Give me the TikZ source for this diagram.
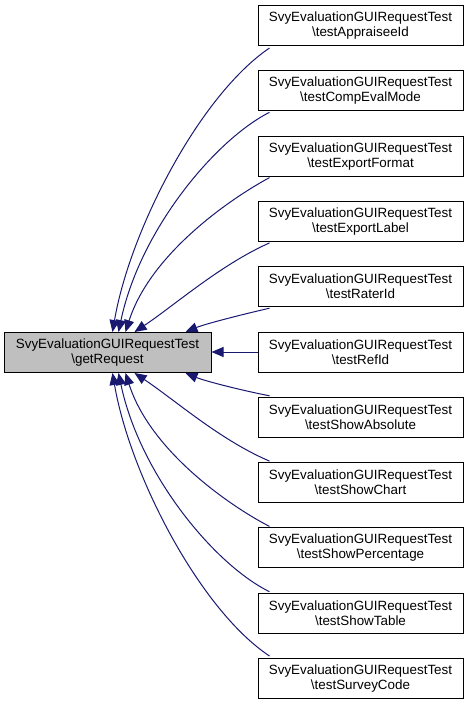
\documentclass[tikz,border=0pt]{standalone}
\usepackage{fontspec}
\setmainfont{Liberation Sans}
\usetikzlibrary{arrows.meta,calc}
\definecolor{edgeblue}{HTML}{191970}
\definecolor{maingray}{HTML}{BFBFBF}
\tikzset{
  box/.style={draw=black,line width=1pt,minimum width=205pt,minimum height=40pt,inner sep=0pt,align=center,font=\fontsize{13.4}{15}\selectfont},
  mainbox/.style={box,fill=maingray,minimum width=207pt},
  edge/.style={draw=edgeblue,line width=1pt,-{Triangle[length=12pt,width=10pt]}}
}
\begin{document}
\begin{tikzpicture}[x=1pt,y=-1pt]
\useasboundingbox (0,0) rectangle (469,705);
\node[mainbox] (g) at (107.5,352.5) {SvyEvaluationGUIRequestTest\\\textbackslash getRequest};
\node[box] (r0) at (360.5,25.5) {SvyEvaluationGUIRequestTest\\\textbackslash testAppraiseeId};
\node[box] (r1) at (360.5,90.8) {SvyEvaluationGUIRequestTest\\\textbackslash testCompEvalMode};
\node[box] (r2) at (360.5,156.1) {SvyEvaluationGUIRequestTest\\\textbackslash testExportFormat};
\node[box] (r3) at (360.5,221.4) {SvyEvaluationGUIRequestTest\\\textbackslash testExportLabel};
\node[box] (r4) at (360.5,286.7) {SvyEvaluationGUIRequestTest\\\textbackslash testRaterId};
\node[box] (r5) at (360.5,352.0) {SvyEvaluationGUIRequestTest\\\textbackslash testRefId};
\node[box] (r6) at (360.5,417.3) {SvyEvaluationGUIRequestTest\\\textbackslash testShowAbsolute};
\node[box] (r7) at (360.5,482.6) {SvyEvaluationGUIRequestTest\\\textbackslash testShowChart};
\node[box] (r8) at (360.5,547.9) {SvyEvaluationGUIRequestTest\\\textbackslash testShowPercentage};
\node[box] (r9) at (360.5,613.2) {SvyEvaluationGUIRequestTest\\\textbackslash testShowTable};
\node[box] (r10) at (360.5,678.5) {SvyEvaluationGUIRequestTest\\\textbackslash testSurveyCode};
% upper edges
\draw[edge] ($(r0.south west)+(12,2)$) .. controls (200,95) and (130,230) .. ($(g.north west)+(109,0)$);
\draw[edge] ($(r1.south west)+(12,1)$) .. controls (215,140) and (140,230) .. ($(g.north west)+(115,0)$);
\draw[edge] ($(r2.south west)+(12,1)$) .. controls (228,200) and (150,255) .. ($(g.north west)+(122,0)$);
\draw[edge] ($(r3.south west)+(12,1)$) .. controls (220,265) and (175,305) .. ($(g.north west)+(131,0)$);
\draw[edge] ($(r4.south west)+(12,1)$) .. controls (240,315) and (205,324) .. ($(g.north west)+(182,0)$);
% middle
\draw[edge] (r5.west) -- (r5.west -| g.east);
% lower edges
\draw[edge] ($(r6.north west)+(12,-1)$) .. controls (240,390) and (205,381) .. ($(g.south west)+(182,0)$);
\draw[edge] ($(r7.north west)+(12,-1)$) .. controls (220,440) and (175,400) .. ($(g.south west)+(131,0)$);
\draw[edge] ($(r8.north west)+(12,-1)$) .. controls (228,505) and (150,450) .. ($(g.south west)+(122,0)$);
\draw[edge] ($(r9.north west)+(12,-1)$) .. controls (215,565) and (140,475) .. ($(g.south west)+(115,0)$);
\draw[edge] ($(r10.north west)+(12,-2)$) .. controls (200,610) and (130,475) .. ($(g.south west)+(109,0)$);
\end{tikzpicture}
\end{document}
